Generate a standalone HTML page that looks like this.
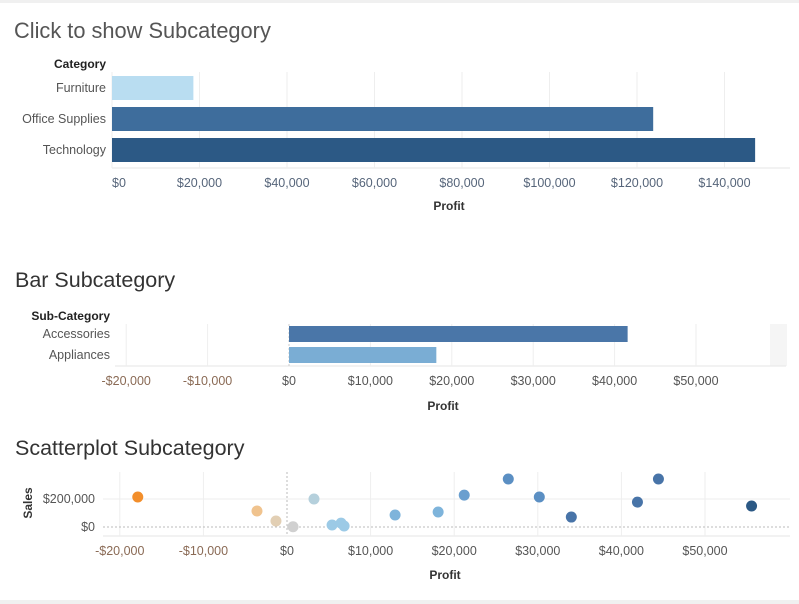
<!DOCTYPE html>
<html><head><meta charset="utf-8"><style>
body{margin:0;background:#fff;font-family:"Liberation Sans",sans-serif;}
svg{display:block}
</style></head><body>
<svg id="svg" width="799" height="604" viewBox="0 0 799 604" xmlns="http://www.w3.org/2000/svg">
<rect x="0" y="0" width="799" height="3" fill="#f0f0f0"/>
<rect x="0" y="600" width="799" height="4" fill="#f0f0f0"/>
<text x="14" y="38" font-size="21.8" fill="#555">Click to show Subcategory</text>
<text x="106" y="68" font-size="12" font-weight="bold" fill="#222" text-anchor="end">Category</text>
<text x="15" y="287" font-size="21.5" fill="#333">Bar Subcategory</text>
<text x="110" y="320" font-size="12" font-weight="bold" fill="#222" text-anchor="end">Sub-Category</text>
<text x="15" y="455" font-size="21.5" fill="#333">Scatterplot Subcategory</text>
<g id="g1"></g><g id="g2"></g><g id="g3"></g>
</svg>
<script>
const NS="http://www.w3.org/2000/svg";
function mk(p,t,a){const e=document.createElementNS(NS,t);for(const k in a)e.setAttribute(k,a[k]);p.appendChild(e);return e;}
function money(v){return (v<0?"-":"")+"$"+Math.abs(v).toLocaleString("en-US");}

// Chart 1 data
const catNames=["Furniture","Office Supplies","Technology"];
const catProfit=[18600,123700,147000];
const catColors=["#b9ddf1","#3e6d9c","#2c5985"];
const catTicks=[0,20000,40000,60000,80000,100000,120000,140000];

// Chart 2 data
const subNames=["Accessories","Appliances"];
const subProfit=[41600,18100];
const subColors=["#4a76a8","#7aadd4"];
const subTicks=[-20000,-10000,0,10000,20000,30000,40000,50000];

// Chart 3 data
const scProfit=[-17850,-3590,-1320,720,3230,5390,6470,6830,12930,18080,21200,26470,30180,34010,41920,44430,55570];
const scSales=[214000,114000,43000,2000,200000,14000,28000,7000,86000,107000,228000,343000,214000,71000,178000,343000,150000];
const scTicksX=[-20000,-10000,0,10000,20000,30000,40000,50000];
const scTicksY=[0,200000];

// ---- Chart 1
(function(){
const g=document.getElementById('g1');
const x=v=>112+v/20000*87.5;
const y0=76,step=31,bh=24;
mk(g,'line',{x1:112,x2:790,y1:168,y2:168,stroke:'#e6e6e6'});
catTicks.forEach(t=>{
 const l=mk(g,'line',{x1:x(t),x2:x(t),y1:72,y2:168,stroke:'#eee'});
 
 
 const tx=mk(g,'text',{x:t===0?119:x(t),y:187,'font-size':12.5,fill:'#56657a','text-anchor':'middle'});tx.textContent=money(t);
 
 
});
catNames.forEach((n,i)=>{
 const r=mk(g,'rect',{x:x(0),y:y0+i*step,width:x(catProfit[i])-x(0),height:bh,fill:catColors[i]});
 
 
 const t=mk(g,'text',{x:106,y:y0+i*step+16,'font-size':12.5,fill:'#555','text-anchor':'end'});t.textContent=n;
 
 
});
const xt=mk(g,'text',{x:449,y:210,'font-size':12,'font-weight':'bold',fill:'#333','text-anchor':'middle'});xt.textContent='Profit';


})();

// ---- Chart 2
(function(){
const g=document.getElementById('g2');
const x=v=>289+v/10000*81.4;
mk(g,'rect',{x:770,y:324,width:17,height:42,fill:'#f5f5f5'});
mk(g,'line',{x1:115,x2:786,y1:366,y2:366,stroke:'#e6e6e6'});
subTicks.forEach(t=>{
 const l=mk(g,'line',{x1:x(t),x2:x(t),y1:324,y2:366,stroke:t===0?'#ccc':'#eee','stroke-dasharray':t===0?'2,2':''});
 
 
 const tx=mk(g,'text',{x:x(t),y:385,'font-size':12.5,fill:t<0?'#8a6a55':'#555','text-anchor':'middle'});tx.textContent=money(t);
 
 
});
subNames.forEach((n,i)=>{
 const yy=326+i*21;
 const r=mk(g,'rect',{x:x(0),y:yy,width:x(subProfit[i])-x(0),height:16,fill:subColors[i]});
 
 
 const t=mk(g,'text',{x:110,y:yy+12,'font-size':12.5,fill:'#555','text-anchor':'end'});t.textContent=n;
 
 
});
const xt=mk(g,'text',{x:443,y:410,'font-size':12,'font-weight':'bold',fill:'#333','text-anchor':'middle'});xt.textContent='Profit';


})();

// ---- Chart 3
(function(){
const g=document.getElementById('g3');
const x=v=>287+v/10000*83.6;
const y=v=>527-v/200000*28;
mk(g,'line',{x1:103,x2:790,y1:536,y2:536,stroke:'#e6e6e6'});
scTicksX.forEach(t=>{
 const l=mk(g,'line',{x1:x(t),x2:x(t),y1:472,y2:536,stroke:t===0?'#bbb':'#eee','stroke-dasharray':t===0?'2,2':''});
 
 
 const tx=mk(g,'text',{x:x(t),y:555,'font-size':12.5,fill:t<0?'#8a6a55':'#555','text-anchor':'middle'});tx.textContent=money(t);
 
 
});
scTicksY.forEach(t=>{
 const l=mk(g,'line',{x1:103,x2:790,y1:y(t),y2:y(t),stroke:t===0?'#bbb':'#eee','stroke-dasharray':t===0?'2,2':''});
 
 
 const tx=mk(g,'text',{x:95,y:y(t)+4,'font-size':12.5,fill:'#555','text-anchor':'end'});tx.textContent=money(t);
 
 
});
function col(p){
 if(p<-10000)return '#f28e2b';
 if(p<-2000)return '#f0c38e';
 if(p<0)return '#e2cfb4';
 if(p<2000)return '#d0d0d0';
 if(p<4000)return '#b5d0dc';
 if(p<10000)return '#9ccae6';
 if(p<20000)return '#7eb4db';
 if(p<25000)return '#6a9fcf';
 if(p<32000)return '#5b8fc3';
 if(p<45000)return '#4874a8';
 return '#2c5985';
}
scProfit.forEach((p,i)=>{
 const c=mk(g,'circle',{cx:x(p),cy:y(scSales[i]),r:5.5,fill:col(p)});
 
 
});
const yt=mk(g,'text',{x:0,y:0,'font-size':12,'font-weight':'bold',fill:'#333','text-anchor':'middle',transform:'translate(32,503) rotate(-90)'});yt.textContent='Sales';


const xt=mk(g,'text',{x:445,y:579,'font-size':12,'font-weight':'bold',fill:'#333','text-anchor':'middle'});xt.textContent='Profit';


})();
</script>
</body></html>
